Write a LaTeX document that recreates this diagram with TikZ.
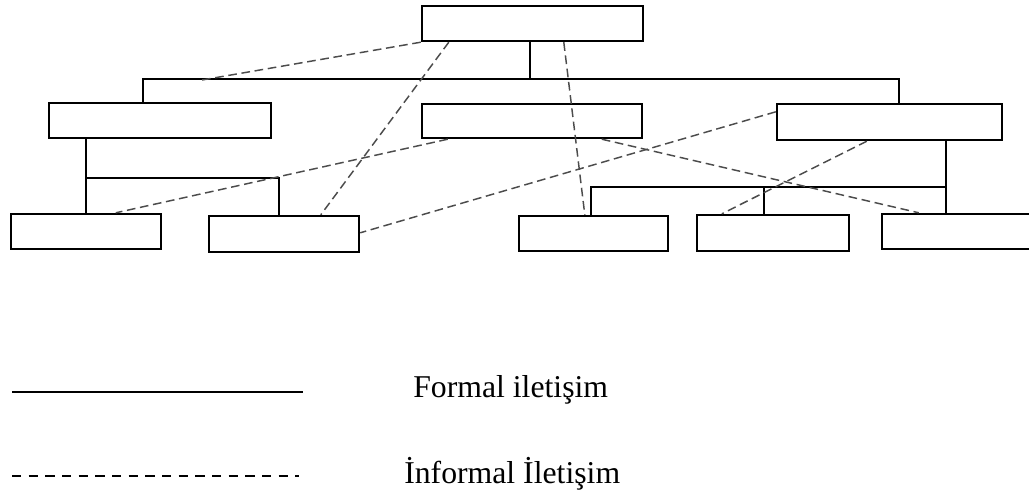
\documentclass[tikz,border=0pt]{standalone}
\usepackage{fontspec}
\setmainfont{Liberation Serif}
\usetikzlibrary{calc,fit}
\begin{document}
\begin{tikzpicture}[x=0.75pt,y=-0.75pt,
  box/.style={draw=black,line width=1.8pt,inner sep=0pt,fill=none},
  formal/.style={draw=black,line width=1.6pt},
  informal/.style={draw=black!70,line width=1.1pt,dash pattern=on 6.5pt off 3.5pt},
  legsolid/.style={draw=black,line width=1.2pt},
  legdash/.style={draw=black,line width=2.2pt,dash pattern=on 7pt off 5.5pt},
  lbl/.style={inner sep=0pt,anchor=base west,font=\fontsize{23.8}{28}\selectfont}]
\useasboundingbox (0,0) rectangle (1029,496);
% boxes
\node[box,fit={(422,6) (643,41)}] (top) {};
\node[box,fit={(49,103) (271,138)}] (L) {};
\node[box,fit={(422,104) (642,138)}] (M) {};
\node[box,fit={(777,104) (1002,140)}] (R) {};
\node[box,fit={(11,214) (161,249)}] (A) {};
\node[box,fit={(209,216) (359,252)}] (B) {};
\node[box,fit={(519,216) (668,251)}] (C) {};
\node[box,fit={(697,215) (849,251)}] (D) {};
\node[box,fit={(882,214) (1045,249)}] (E) {};
% formal connectors
\coordinate (busL) at (143,79);
\coordinate (busT) at (530,79);
\coordinate (busR) at (899,79);
\draw[formal] (top.south -| busT) -- (busT);
\draw[formal] (L.north -| busL) -- (busL) -- (busR) -- (R.north -| busR);
\coordinate (lb) at (279,178);
\draw[formal] (L.south -| A.north) -- (A.north);
\draw[formal] (A.north |- lb) -- (lb) -- (B.north -| lb);
\coordinate (rb) at (946,187);
\coordinate (rc) at (591,187);
\coordinate (rd) at (764,187);
\draw[formal] (R.south -| rb) -- (E.north -| rb);
\draw[formal] (C.north -| rc) -- (rc) -- (rb);
\draw[formal] (rd) -- (D.north -| rd);
% informal connectors
\coordinate (d1) at (202,80);
\draw[informal] (top.south west) -- (d1);
\draw[informal] ($(top.south west)+(28,0)$) -- ($(B.north west)+(113,0)$);
\draw[informal] ($(top.south west)+(143,0)$) -- ($(C.north west)+(67,0)$);
\draw[informal] ($(M.south west)+(27,0)$) -- ($(A.north west)+(106,0)$);
\draw[informal] ($(M.south west)+(181,0)$) -- ($(E.north west)+(38,0)$);
\draw[informal] ($(R.north west)+(0,9)$) -- ($(B.north east)+(0,18)$);
\draw[informal] ($(R.south west)+(91,0)$) -- ($(D.north west)+(26,0)$);
% legend
\coordinate (s1) at (12,392);
\coordinate (s2) at (303,392);
\coordinate (q1) at (12,476);
\coordinate (q2) at (299,476);
\draw[legsolid] (s1) -- (s2);
\draw[legdash] (q1) -- (q2);
\node[lbl] (t1) at (413,397) {Formal iletişim};
\node[lbl] (t2) at (404,483) {İnformal İletişim};
\end{tikzpicture}
\end{document}
